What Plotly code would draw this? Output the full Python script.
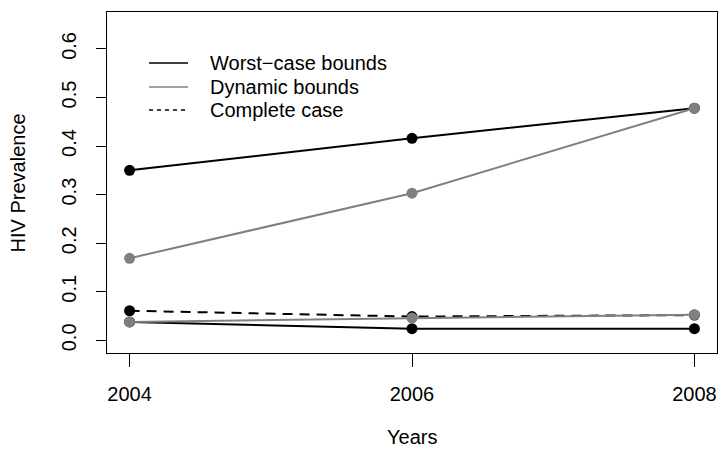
import plotly.graph_objects as go

years = [2004, 2006, 2008]
worst_upper = [0.350, 0.416, 0.478]
worst_lower = [0.038, 0.024, 0.024]
complete_case = [0.061, 0.049, 0.052]
dynamic_upper = [0.169, 0.303, 0.478]
dynamic_lower = [0.038, 0.046, 0.053]

y_ticks = [0.0, 0.1, 0.2, 0.3, 0.4, 0.5, 0.6]
x_ticks = [2004, 2006, 2008]
legend_labels = ["Worst\u2212case bounds", "Dynamic bounds", "Complete case"]

BLACK = "#000000"
GRAY = "#808080"
FONT = "Liberation Sans, Arial, Helvetica, sans-serif"
FS = 20

fig = go.Figure()

def add(yvals, color, dash="solid"):
    fig.add_trace(go.Scatter(
        x=years, y=yvals, mode="lines+markers",
        line=dict(color=color, width=2, dash=dash),
        marker=dict(color=color, size=11, symbol="circle"),
        showlegend=False, hoverinfo="skip"))

add(worst_upper, BLACK)
add(worst_lower, BLACK)
add(complete_case, BLACK, dash="10px,7px")
add(dynamic_upper, GRAY)
add(dynamic_lower, GRAY)

# manual legend (no box), like base R legend(bty="n")
leg_colors = [BLACK, GRAY, BLACK]
leg_dash = ["solid", "solid", "4px,4px"]
leg_y = [0.8504, 0.780, 0.7126]
for lab, c, d, yy in zip(legend_labels, leg_colors, leg_dash, leg_y):
    fig.add_shape(type="line", xref="paper", yref="paper",
                  x0=0.0689, x1=0.1328, y0=yy, y1=yy,
                  line=dict(color=c, width=1.3, dash=d))
    fig.add_annotation(xref="paper", yref="paper", x=0.1655, y=yy,
                       text=lab, showarrow=False, xanchor="left", yanchor="middle",
                       font=dict(family=FONT, size=FS, color="#000"))

# axis titles
fig.add_annotation(xref="paper", yref="paper", x=-0.146, y=0.5, text="HIV Prevalence",
                   textangle=-90, showarrow=False, xanchor="center", yanchor="middle",
                   font=dict(family=FONT, size=FS, color="#000"))
fig.add_annotation(xref="paper", yref="paper", x=0.5, y=-0.2845, text="Years",
                   showarrow=False, xanchor="center", yanchor="bottom",
                   font=dict(family=FONT, size=FS, color="#000"))

fig.update_layout(
    width=719, height=451,
    margin=dict(l=107, r=2, t=12, b=98),
    paper_bgcolor="white", plot_bgcolor="white",
    font=dict(family=FONT, size=FS, color="#000"),
    xaxis=dict(range=[2003.84, 2008.16], tickvals=x_ticks, ticktext=[str(v) for v in x_ticks],
               showgrid=False, zeroline=False, showline=True, mirror=True,
               linecolor="#000", linewidth=1, ticks="outside", ticklen=13,
               tickcolor="#000", tickwidth=1, tickfont=dict(size=FS),
               ticklabelstandoff=10),
    yaxis=dict(range=[-0.026, 0.676], tickvals=y_ticks, ticktext=[f"{v:.1f}" for v in y_ticks],
               showgrid=False, zeroline=False, showline=True, mirror=True,
               linecolor="#000", linewidth=1, ticks="outside", ticklen=10,
               tickcolor="#000", tickwidth=1, tickangle=-90, tickfont=dict(size=FS),
               ticklabelstandoff=12),
)

fig.write_html("out.html", config={"displayModeBar": False},
               post_script="document.body.style.margin='0';document.body.style.padding='0';document.body.style.overflow='hidden';")
